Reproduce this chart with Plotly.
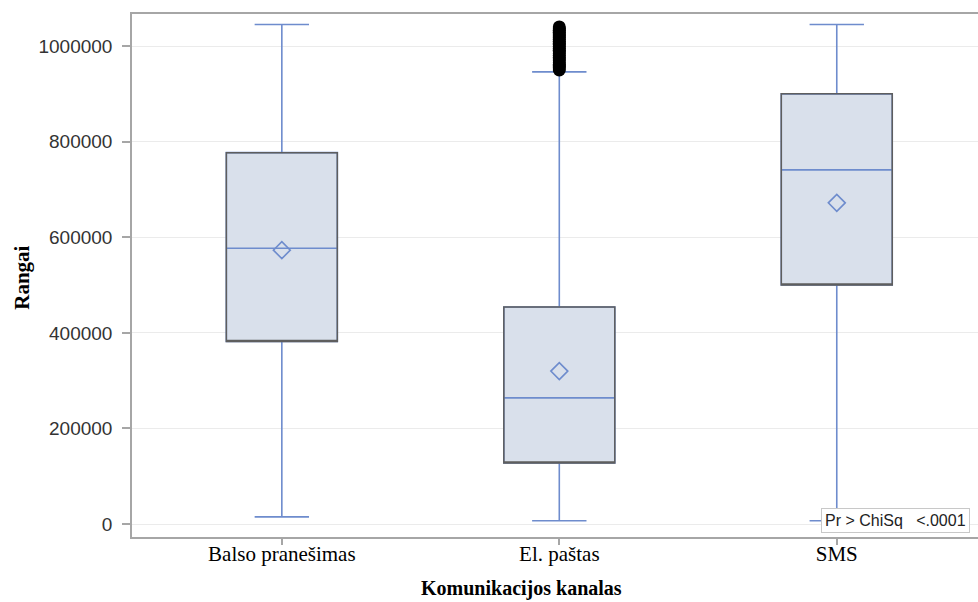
import plotly.graph_objects as go

# Rank distribution per communication channel
categories = ["Balso pranešimas", "El. paštas", "SMS"]
lower_whisker = [15000, 7000, 7000]
q1_values = [382000, 128000, 500000]
median_values = [577000, 264000, 741000]
q3_values = [777000, 454000, 900000]
upper_whisker = [1045000, 946000, 1045000]
mean_values = [573000, 320000, 672000]

# Outlying ranks above the e-mail whisker
outlier_category = "El. paštas"
outlier_values = [950000, 954000, 958000, 961000, 965000, 969000, 973000, 976000,
                  980000, 984000, 988000, 991000, 995000, 999000, 1003000, 1006000,
                  1010000, 1014000, 1018000, 1021000, 1025000, 1029000, 1033000,
                  1036000, 1040000]

y_ticks = [0, 200000, 400000, 600000, 800000, 1000000]

BLUE = "#6E8CCD"
FILL = "#D9E0EB"
EDGE = "#5E5E5E"
AXIS = "#A6A6A6"

fig = go.Figure()

# Boxes with blue whiskers and median
fig.add_trace(go.Box(
    x=categories, q1=q1_values, median=median_values, q3=q3_values,
    lowerfence=lower_whisker, upperfence=upper_whisker,
    width=0.4, whiskerwidth=0.49, fillcolor=FILL,
    line=dict(color=BLUE, width=1.6), boxpoints=False,
    hoverinfo="skip", showlegend=False,
))

# Dark outline drawn over the box edges
fig.add_trace(go.Box(
    x=categories, q1=q1_values, median=q1_values, q3=q3_values,
    lowerfence=q1_values, upperfence=q3_values,
    width=0.4, whiskerwidth=0.0, fillcolor="rgba(0,0,0,0)",
    line=dict(color=EDGE, width=1.5), boxpoints=False,
    hoverinfo="skip", showlegend=False,
))

# Means
fig.add_trace(go.Scatter(
    x=categories, y=mean_values, mode="markers",
    marker=dict(symbol="diamond-open", size=13, color=BLUE, line=dict(width=1.6, color=BLUE)),
    hoverinfo="skip", showlegend=False,
))

# Outliers
fig.add_trace(go.Scatter(
    x=[outlier_category] * len(outlier_values), y=outlier_values, mode="markers",
    marker=dict(symbol="circle", size=13, color="black"),
    hoverinfo="skip", showlegend=False,
))

fig.update_layout(
    width=978, height=602,
    margin=dict(l=132, r=0, t=14, b=65),
    paper_bgcolor="white", plot_bgcolor="white",
    boxmode="overlay",
    xaxis=dict(
        type="category", range=[-0.54, 2.509],
        showline=True, linecolor=AXIS, linewidth=1.5, mirror=True,
        ticks="outside", ticklen=6, tickcolor=AXIS, tickwidth=1.5,
        ticklabelstandoff=-9,
        showgrid=False, zeroline=False,
        tickfont=dict(family="Liberation Serif", size=21, color="black"),
    ),
    yaxis=dict(
        range=[-27000, 1067000],
        tickvals=y_ticks, ticktext=[str(v) for v in y_ticks],
        showline=True, linecolor=AXIS, linewidth=1.5,
        ticks="outside", ticklen=8, tickcolor=AXIS, tickwidth=1.5,
        ticklabelstandoff=6,
        showgrid=True, gridcolor="#EBEBEB", gridwidth=1.2, zeroline=False,
        tickfont=dict(family="Liberation Sans", size=19, color="#333333"),
    ),
    annotations=[
        dict(text="<b>Komunikacijos kanalas</b>", xref="paper", yref="paper",
             x=0.46, y=-0.1244, xanchor="center", yanchor="bottom", showarrow=False,
             font=dict(family="Liberation Serif", size=20, color="black")),
        dict(text="<b>Rangai</b>", xref="paper", yref="paper",
             x=-0.130, y=0.4957, xanchor="center", yanchor="middle", showarrow=False,
             textangle=-90,
             font=dict(family="Liberation Serif", size=21, color="black")),
        dict(text="Pr &gt; ChiSq\u00a0\u00a0 &lt;.0001", xref="paper", yref="paper",
             x=0.8144, y=0.0316, xanchor="left", yanchor="middle", showarrow=False,
             bgcolor="white", bordercolor="#C8C8C8", borderwidth=1, borderpad=3,
             font=dict(family="Liberation Sans", size=16, color="#222222")),
    ],
)

fig.write_html("out.html")
